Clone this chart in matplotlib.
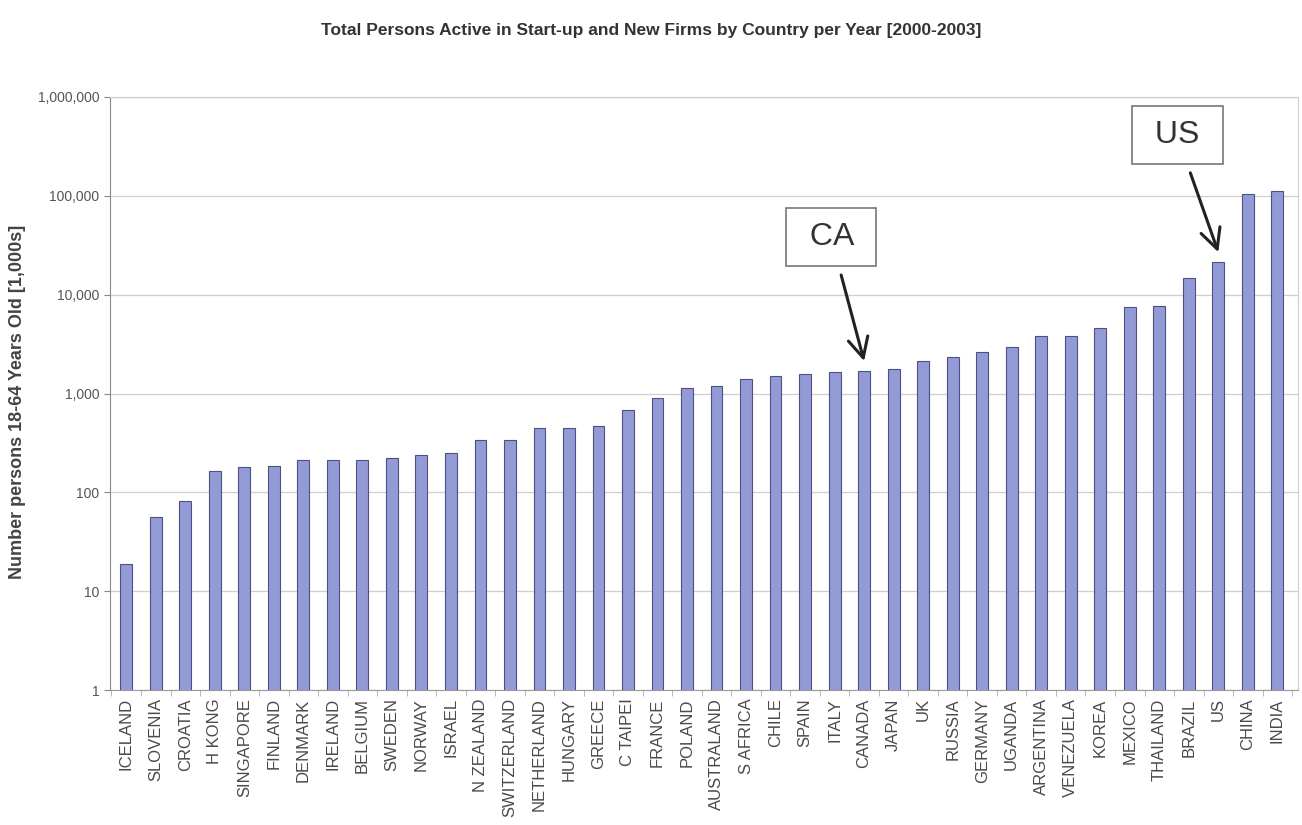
import numpy as np
import matplotlib
matplotlib.use("Agg")
import matplotlib.pyplot as plt
from matplotlib.ticker import FixedLocator, FuncFormatter, NullLocator

plt.rcParams["font.family"] = ["Liberation Sans", "DejaVu Sans"]

# -- data (thousands of persons) -----------------------------------------------
countries = [
    "ICELAND", "SLOVENIA", "CROATIA", "H KONG", "SINGAPORE", "FINLAND",
    "DENMARK", "IRELAND", "BELGIUM", "SWEDEN", "NORWAY", "ISRAEL",
    "N ZEALAND", "SWITZERLAND", "NETHERLAND", "HUNGARY", "GREECE", "C TAIPEI",
    "FRANCE", "POLAND", "AUSTRALAND", "S AFRICA", "CHILE", "SPAIN", "ITALY",
    "CANADA", "JAPAN", "UK", "RUSSIA", "GERMANY", "UGANDA", "ARGENTINA",
    "VENEZUELA", "KOREA", "MEXICO", "THAILAND", "BRAZIL", "US", "CHINA", "INDIA",
]
persons = [
    19, 56, 82, 164, 182, 184,
    210, 210, 210, 222, 236, 252,
    342, 342, 443, 443, 471, 680,
    900, 1150, 1200, 1400, 1500, 1580, 1640,
    1700, 1780, 2150, 2350, 2620, 2950, 3780,
    3780, 4650, 7450, 7600, 14700, 21500, 104000, 111000,
]
y_ticks = [1, 10, 100, 1000, 10000, 100000, 1000000]
callouts = [("CA", "CANADA"), ("US", "US")]

title = "Total Persons Active in Start-up and New Firms by Country per Year [2000-2003]"
ylabel = "Number persons 18-64 Years Old [1,000s]"

# -- figure --------------------------------------------------------------------
W, H = 1302, 825
fig = plt.figure(figsize=(W / 100, H / 100), dpi=100, facecolor="white")
ax = fig.add_axes([110 / W, 1 - 690 / H, 1188 / W, 593 / H])

x = np.arange(len(countries))
ax.bar(x, persons, width=0.4, color="#939bd6", edgecolor="#4b5183",
       linewidth=0.8, zorder=3)

ax.set_yscale("log")
ax.set_ylim(1, 1000000)
ax.set_xlim(-0.55, len(countries) - 0.3)

ax.yaxis.set_major_locator(FixedLocator(y_ticks))
ax.yaxis.set_minor_locator(NullLocator())
ax.yaxis.set_major_formatter(FuncFormatter(lambda v, p: f"{int(v):,}"))
ax.tick_params(axis="y", labelsize=10, labelcolor="#555555", color="#888888",
               length=4, width=0.8)
ax.grid(axis="y", color="#cfcfcf", linewidth=0.9, zorder=0)

ax.set_xticks(x)
ax.set_xticklabels(countries, rotation=90, fontsize=12, color="#4a4a4a")
ax.set_xticks(np.arange(len(countries) + 1) - 0.5, minor=True)
ax.tick_params(axis="x", which="major", length=0, pad=6)
ax.tick_params(axis="x", which="minor", length=4, color="#aaaaaa")

for side in ["top", "right"]:
    ax.spines[side].set_color("#cccccc")
ax.spines["left"].set_color("#8a8a8a")
ax.spines["bottom"].set_color("#9a9a9a")

fig.text(0.5, 1 - 30 / H, title, ha="center", va="center", fontsize=12.5,
         fontweight="bold", color="#333333")
fig.text(18 / W, 1 - 402 / H, ylabel, rotation=90, ha="center", va="center",
         fontsize=13, fontweight="bold", color="#444444")

# -- call-out boxes with arrows --------------------------------------------------
box_pos = {"CA": (831, 237), "US": (1177, 135)}
for label, country in callouts:
    i = countries.index(country)
    bx, by = box_pos[label]
    ax.annotate(
        f" {label} ", xy=(i, persons[i] * 1.25), xycoords="data",
        xytext=(bx, H - by), textcoords="figure pixels",
        ha="center", va="center", fontsize=23, color="#333333",
        bbox=dict(boxstyle="square,pad=0.45", fc="white", ec="#777777", lw=1.2),
        arrowprops=dict(arrowstyle="->,head_length=0.8,head_width=0.4",
                        color="#222222", lw=2.2, mutation_scale=18,
                        shrinkA=6, shrinkB=0),
        zorder=5,
    )

fig.savefig("out.png", dpi=100, facecolor="white")
